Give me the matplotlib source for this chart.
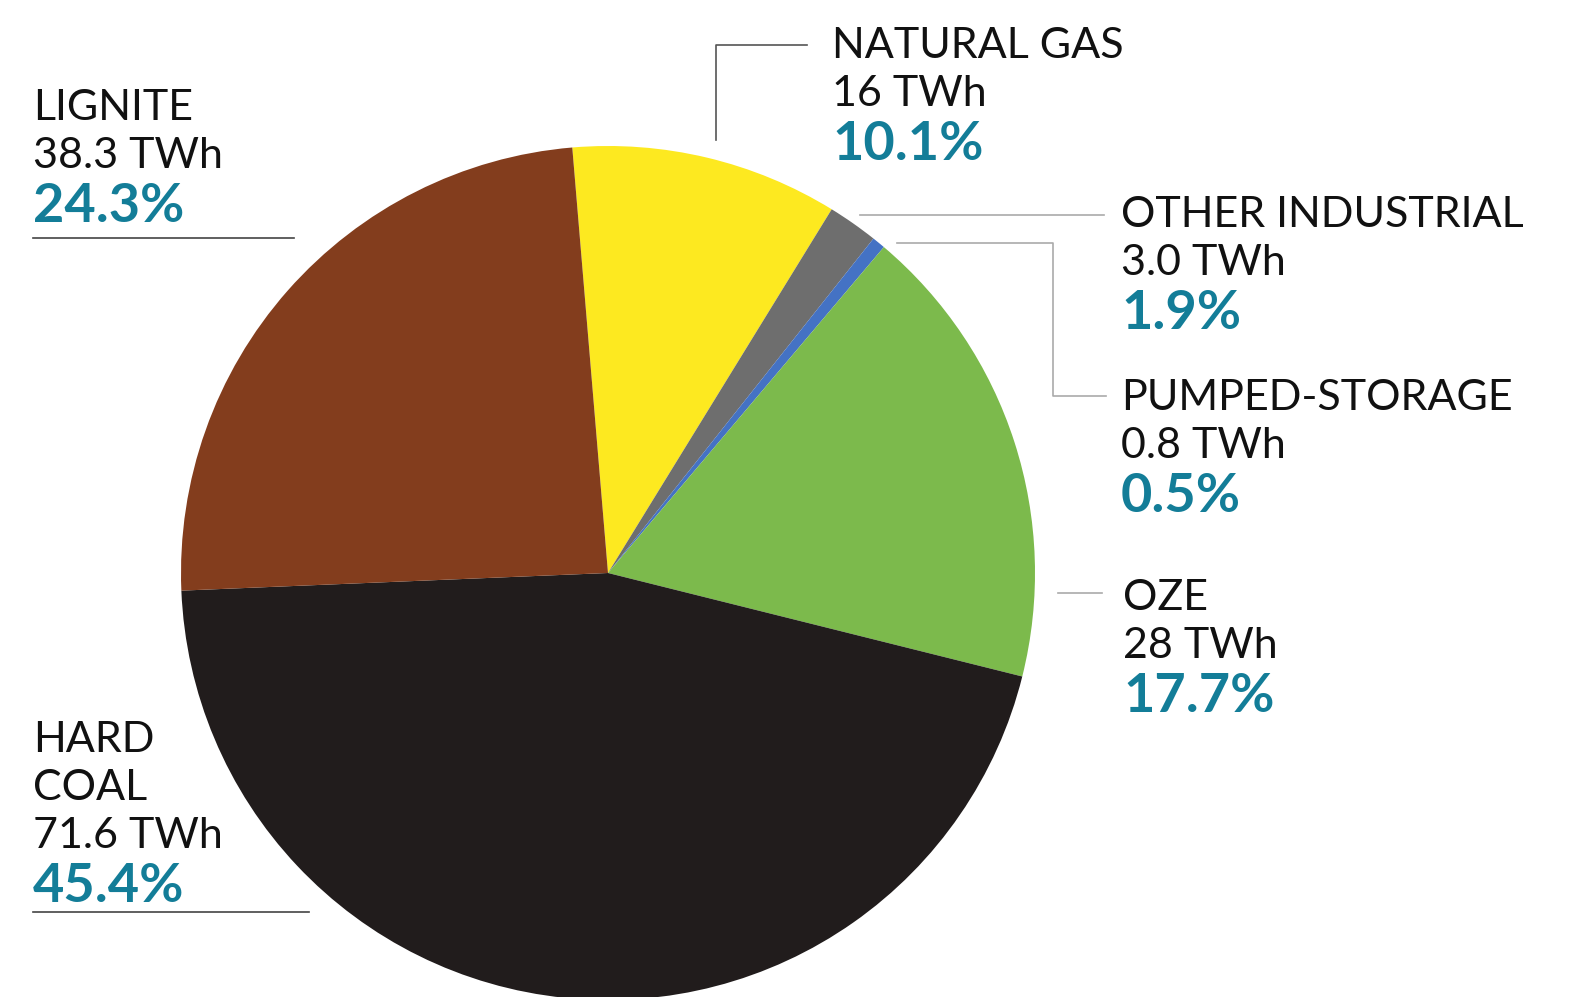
import matplotlib
matplotlib.use("Agg")
from matplotlib import pyplot as plt

# data
sources = ["NATURAL GAS", "OTHER INDUSTRIAL", "PUMPED-STORAGE", "OZE", "HARD\nCOAL", "LIGNITE"]
twh = ["16", "3.0", "0.8", "28", "71.6", "38.3"]
share = [10.1, 1.9, 0.5, 17.7, 45.4, 24.3]
colors = ["#fde920", "#6e6e6e", "#4472c4", "#7cba4c", "#211c1c", "#833d1d"]

W, H = 1573, 997
PCT_COLOR = "#137d98"

fig = plt.figure(figsize=(W / 100, H / 100), dpi=100)
ax = fig.add_axes([0, 0, 1, 1])

# pie (y axis inverted -> counterclock=True reads clockwise on screen)
ax.pie(share, colors=colors, startangle=-94.8, counterclock=True,
       center=(608, 573), radius=427, frame=True,
       wedgeprops=dict(linewidth=0))
ax.set_xlim(0, W)
ax.set_ylim(H, 0)
ax.set_aspect("equal")
ax.axis("off")

# label layout: x, baseline of first line
label_pos = [(832, 58), (1121, 227), (1121, 410), (1123, 610), (33, 752), (33, 120)]
LINE = 48
for name, tw, p, (x, y) in zip(sources, twh, share, label_pos):
    lines = name.split("\n") + [tw + " TWh"]
    for i, t in enumerate(lines):
        ax.text(x, y + i * LINE, t, fontsize=31, family="Lato", color="#111111",
                va="baseline", ha="left")
    ax.text(x, y + (len(lines) - 1) * LINE + 54, "%.1f%%" % p, fontsize=39,
            family="Lato", weight="bold", color=PCT_COLOR, va="baseline", ha="left")

# leader lines
ax.plot([33, 294], [238, 238], color="#444444", lw=1.2)
ax.plot([33, 309], [912, 912], color="#444444", lw=1.2)
ax.plot([716, 716, 807], [140, 45, 45], color="#555555", lw=1.2)
ax.plot([860, 1104], [215, 215], color="#aaaaaa", lw=1.2)
ax.plot([897, 1053, 1053, 1106], [243, 243, 396, 396], color="#aaaaaa", lw=1.2)
ax.plot([1058, 1102], [593, 593], color="#aaaaaa", lw=1.2)

fig.savefig("out.png", dpi=100, facecolor="white")
